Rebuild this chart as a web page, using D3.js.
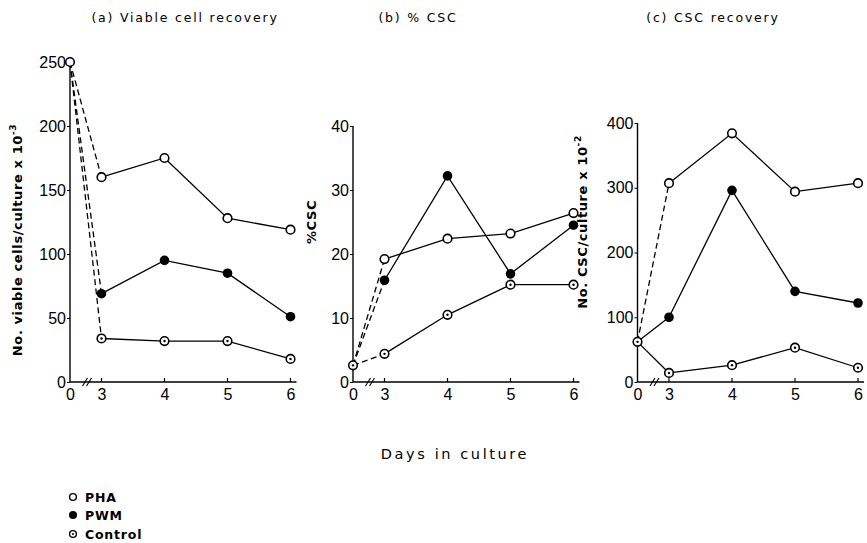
<!DOCTYPE html>
<html>
<head>
<meta charset="utf-8">
<script src="https://cdn.jsdelivr.net/npm/d3@7"></script>
<style>
  body { margin: 0; background: #fff; }
  svg { font-family: "DejaVu Sans", sans-serif; }
</style>
</head>
<body>
<script>
// days sampled; day 0 sits just left of an axis break
var days = [0, 3, 4, 5, 6];
var dayLabels = ["0", "3", "4", "5", "6"];

// (a) viable cells / culture x 10^-3
var viablePHA = [250, 160, 175, 128, 119];
var viablePWM = [250, 69, 95, 85, 51];
var viableControl = [250, 34, 32, 32, 18];

// (b) % CSC
var pctPHA = [2.6, 19.2, 22.4, 23.2, 26.4];
var pctPWM = [2.6, 15.9, 32.2, 16.9, 24.5];
var pctControl = [2.6, 4.4, 10.5, 15.2, 15.2];

// (c) CSC / culture x 10^-2
var cscPHA = [62, 307, 384, 294, 307];
var cscPWM = [62, 100, 296, 140, 122];
var cscControl = [62, 14, 26, 53, 22];

var titles = ["(a) Viable cell recovery", "(b) % CSC", "(c) CSC recovery"];
var yTicksA = [0, 50, 100, 150, 200, 250];
var yTicksB = [0, 10, 20, 30, 40];
var yTicksC = [0, 100, 200, 300, 400];
var legendNames = ["PHA", "PWM", "Control"];

var W = 867, H = 543;
var svg = d3.select("body").append("svg")
  .attr("width", W).attr("height", H);

var panels = [
  { left: 70, top: 62, max: 250, ticks: yTicksA, series: [viablePHA, viablePWM, viableControl],
    dashed: [true, true, true], zeroKind: 0,
    ylab: "No. viable cells/culture x 10", sup: "-3", ylabX: 22, ylabY: 240 },
  { left: 353, top: 126, max: 40, ticks: yTicksB, series: [pctPHA, pctPWM, pctControl],
    dashed: [true, true, true], zeroKind: 2,
    ylab: "%CSC", sup: "", ylabX: 316, ylabY: 222 },
  { left: 637.5, top: 123, max: 400, ticks: yTicksC, series: [cscPHA, cscPWM, cscControl],
    dashed: [true, false, false], zeroKind: 2,
    ylab: "No. CSC/culture x 10", sup: "-2", ylabX: 587, ylabY: 222 }
];
var bottom = 382;
var panelW = 220.5;
// day 0 is drawn half a day before day 3 (broken axis)
function pos(d) { return d === 0 ? 2.5 : d; }

function marker(g, kind, cx, cy) {
  if (kind === 1) {
    g.append("circle").attr("cx", cx).attr("cy", cy).attr("r", 4.8)
      .attr("fill", "#000");
  } else {
    g.append("circle").attr("cx", cx).attr("cy", cy).attr("r", 4.3)
      .attr("fill", "#fff").attr("stroke", "#000").attr("stroke-width", 1.6);
    if (kind === 2) {
      g.append("circle").attr("cx", cx).attr("cy", cy).attr("r", 1.2)
        .attr("fill", "#000");
    }
  }
}

panels.forEach(function(p, i) {
  var x = d3.scaleLinear().domain([2.5, 6]).range([p.left, p.left + panelW]);
  var y = d3.scaleLinear().domain([0, p.max]).range([bottom, p.top]);
  var g = svg.append("g");

  svg.append("text")
    .attr("x", [185, 418, 713][i]).attr("y", 22)
    .attr("text-anchor", "middle")
    .style("font-size", "12.5px").style("letter-spacing", "1.8px")
    .text(titles[i]);

  // y axis
  var yAxis = g.append("g")
    .attr("transform", "translate(" + p.left + ",0)")
    .call(d3.axisLeft(y).tickValues(p.ticks).tickSize(3).tickPadding(1));
  yAxis.select(".domain").attr("d", "M0," + bottom + "V" + p.top)
    .attr("stroke-width", 1.4);
  yAxis.selectAll("text").style("font-size", "16px");

  // x axis with break
  var xAxis = g.append("g")
    .attr("transform", "translate(0," + bottom + ")")
    .call(d3.axisBottom(x).tickValues(days.map(pos))
      .tickFormat(function(d, j) { return dayLabels[j]; })
      .tickSize(0).tickPadding(7));
  xAxis.select(".domain").attr("d", "M" + p.left + ",0H" + (p.left + panelW + 6))
    .attr("stroke-width", 1.4);
  xAxis.selectAll("text").style("font-size", "16px");
  days.slice(1).forEach(function(d) {
    xAxis.append("line").attr("x1", x(d)).attr("x2", x(d))
      .attr("y1", 0).attr("y2", -4).attr("stroke", "#000").attr("stroke-width", 1.2);
  });
  var bx = x(2.77);
  [-2, 2].forEach(function(o) {
    xAxis.append("line").attr("x1", bx + o - 2.5).attr("y1", 4)
      .attr("x2", bx + o + 2.5).attr("y2", -4)
      .attr("stroke", "#000").attr("stroke-width", 1.1);
  });

  // y label
  var lab = svg.append("text")
    .attr("transform", "translate(" + p.ylabX + "," + p.ylabY + ") rotate(-90)")
    .attr("text-anchor", "middle")
    .style("font-size", "13px").style("font-weight", "bold").style("letter-spacing", "0.6px")
    .text(p.ylab);
  if (p.sup) lab.append("tspan").attr("dy", -6).style("font-size", "9px").text(p.sup);

  // series lines
  p.series.forEach(function(vals, k) {
    var pts = days.map(function(d, j) { return [x(pos(d)), y(vals[j])]; });
    g.append("line")
      .attr("x1", pts[0][0]).attr("y1", pts[0][1])
      .attr("x2", pts[1][0]).attr("y2", pts[1][1])
      .attr("stroke", "#000").attr("stroke-width", 1.3)
      .attr("stroke-dasharray", p.dashed[k] ? "6,3.5" : null);
    g.append("path")
      .attr("d", d3.line()(pts.slice(1)))
      .attr("fill", "none").attr("stroke", "#000").attr("stroke-width", 1.3);
  });
  // markers
  p.series.forEach(function(vals, k) {
    days.forEach(function(d, j) {
      if (j === 0) return;
      marker(g, k, x(pos(d)), y(vals[j]));
    });
  });
  marker(g, p.zeroKind, x(pos(0)), y(p.series[0][0]));
});

svg.append("text")
  .attr("x", 455).attr("y", 459)
  .attr("text-anchor", "middle")
  .style("font-size", "14.5px").style("letter-spacing", "2.6px")
  .text("Days  in culture");

var leg = svg.append("g");
legendNames.forEach(function(n, k) {
  var cy = [497, 515, 534][k];
  if (k === 1) {
    leg.append("circle").attr("cx", 73).attr("cy", cy).attr("r", 4).attr("fill", "#000");
  } else {
    leg.append("circle").attr("cx", 73).attr("cy", cy).attr("r", 3.4)
      .attr("fill", "#fff").attr("stroke", "#000").attr("stroke-width", 1.4);
    if (k === 2) leg.append("circle").attr("cx", 73).attr("cy", cy).attr("r", 1).attr("fill", "#000");
  }
  leg.append("text").attr("x", 85).attr("y", cy + 4.5)
    .style("font-size", "12.5px").style("font-weight", "bold").style("letter-spacing", "0.8px")
    .text(n);
});
</script>
</body>
</html>
